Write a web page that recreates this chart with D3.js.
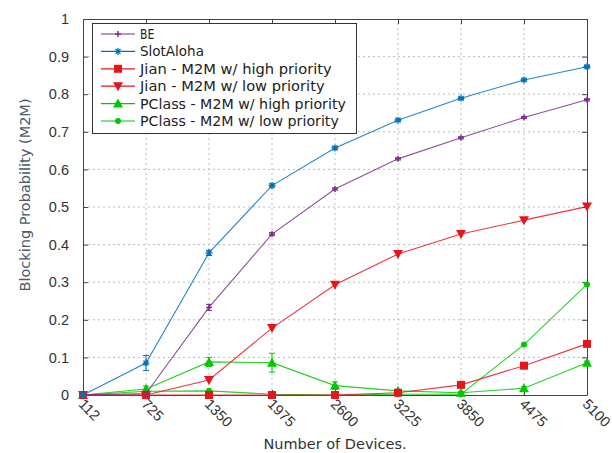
<!DOCTYPE html>
<html>
<head>
<meta charset="utf-8">
<script src="https://d3js.org/d3.v7.min.js"></script>
<style>
body { margin: 0; background: #fff; }
text { font-family: "Liberation Sans", Arial, sans-serif; }
</style>
</head>
<body>
<svg id="chart" width="612" height="453"></svg>
<script>
const devices = ["112", "725", "1350", "1975", "2600", "3225", "3850", "4475", "5100"];
const yTicks = [0, 0.1, 0.2, 0.3, 0.4, 0.5, 0.6, 0.7, 0.8, 0.9, 1];

const seriesNames = ["BE", "SlotAloha", "Jian - M2M w/ high priority", "Jian - M2M w/ low priority",
                     "PClass - M2M w/ high priority", "PClass - M2M w/ low priority"];
const beVals = [0, 0.004, 0.233, 0.428, 0.548, 0.628, 0.684, 0.738, 0.785];
const slotVals = [0, 0.085, 0.378, 0.557, 0.657, 0.731, 0.789, 0.838, 0.873];
const jianHighVals = [0, 0, 0, 0, 0, 0.006, 0.027, 0.078, 0.136];
const jianLowVals = [0, 0, 0.04, 0.178, 0.293, 0.375, 0.428, 0.465, 0.501];
const pcHighVals = [0, 0.016, 0.088, 0.086, 0.025, 0.011, 0.006, 0.018, 0.086];
const pcLowVals = [0, 0.01, 0.011, 0.002, 0, 0.002, 0.002, 0.134, 0.294];
// half-width of error bars
const beErr = [0, 0, 0.008, 0.004, 0.003, 0.003, 0.003, 0.003, 0.003];
const slotErr = [0, 0.02, 0.007, 0.004, 0.003, 0.003, 0.003, 0.003, 0.003];
const pcHighErr = [0, 0.008, 0.012, 0.025, 0.01, 0.003, 0.003, 0.004, 0.004];
const noErr = [0, 0, 0, 0, 0, 0, 0, 0, 0];

const colors = ["#7e2f8e", "#0072bd", "#e8141c", "#e8141c", "#00c800", "#00c800"];
const markers = ["plus", "star", "square", "tridown", "triup", "dot"];
const allVals = [beVals, slotVals, jianHighVals, jianLowVals, pcHighVals, pcLowVals];
const allErr = [beErr, slotErr, noErr, noErr, pcHighErr, noErr];

const svg = d3.select("#chart");
const m = {l: 83, r: 25, t: 19, b: 58};
const W = 612, H = 453;

const x = d3.scalePoint().domain(devices).range([m.l, W - m.r]);
const y = d3.scaleLinear().domain([0, 1]).range([H - m.b, m.t]);

// grid
const grid = svg.append("g").attr("stroke", "#bbb").attr("stroke-dasharray", "2,3").attr("stroke-width", 1);
grid.selectAll(".gx").data(devices.slice(1, -1)).join("line")
  .attr("x1", d => x(d)).attr("x2", d => x(d)).attr("y1", y(0)).attr("y2", y(1));
grid.selectAll(".gy").data(yTicks.slice(1, -1)).join("line")
  .attr("x1", x(devices[0])).attr("x2", x(devices[8])).attr("y1", d => y(d)).attr("y2", d => y(d));

// axes
const xAx = svg.append("g").attr("transform", `translate(0,${y(0)})`)
  .call(d3.axisBottom(x).tickSizeInner(-5).tickSizeOuter(0).tickPadding(6));
xAx.selectAll("text").attr("transform", "rotate(45)").attr("text-anchor", "start")
  .attr("dy", "0.5em").attr("x", 3).attr("y", 4);
svg.append("g").attr("transform", `translate(0,${y(1)})`)
  .call(d3.axisTop(x).tickSizeInner(-5).tickSizeOuter(0).tickFormat(""));
const yAx = svg.append("g").attr("transform", `translate(${x(devices[0])},0)`)
  .call(d3.axisLeft(y).tickValues(yTicks).tickFormat(d3.format("")).tickSizeInner(-5).tickSizeOuter(0).tickPadding(14));
svg.append("g").attr("transform", `translate(${x(devices[8])},0)`)
  .call(d3.axisRight(y).tickValues(yTicks).tickFormat("").tickSizeInner(-5).tickSizeOuter(0));
svg.selectAll(".domain").attr("stroke", "#444");
svg.selectAll(".tick line").attr("stroke", "#444");
svg.selectAll(".tick text").attr("fill", "#333").style("font-size", "14.5px");

// axis titles
svg.append("text").attr("x", 335).attr("y", 449)
  .attr("text-anchor", "middle").attr("fill", "#333")
  .style("font-family", "'DejaVu Sans', sans-serif").style("font-size", "14.5px").text("Number of Devices.");
svg.append("text").attr("transform", `translate(30,195) rotate(-90)`)
  .attr("text-anchor", "middle").attr("fill", "#4a5a6a")
  .style("font-family", "'DejaVu Sans', sans-serif").style("font-size", "14.5px").text("Blocking Probability (M2M)");

function drawMarker(g, type, color, cx, cy) {
  if (type === "plus") {
    g.append("path").attr("d", `M${cx - 3},${cy}H${cx + 3}M${cx},${cy - 3}V${cy + 3}`).attr("stroke", color).attr("stroke-width", 1.5);
  } else if (type === "star") {
    g.append("path").attr("d", `M${cx - 3.5},${cy}H${cx + 3.5}M${cx},${cy - 3.5}V${cy + 3.5}M${cx - 2.5},${cy - 2.5}L${cx + 2.5},${cy + 2.5}M${cx - 2.5},${cy + 2.5}L${cx + 2.5},${cy - 2.5}`)
      .attr("stroke", color).attr("stroke-width", 1.3);
  } else if (type === "square") {
    g.append("rect").attr("x", cx - 4).attr("y", cy - 4).attr("width", 8).attr("height", 8).attr("fill", color);
  } else if (type === "tridown") {
    g.append("path").attr("d", `M${cx - 5},${cy - 4}L${cx + 5},${cy - 4}L${cx},${cy + 5}Z`).attr("fill", color);
  } else if (type === "triup") {
    g.append("path").attr("d", `M${cx - 5},${cy + 4}L${cx + 5},${cy + 4}L${cx},${cy - 5}Z`).attr("fill", color);
  } else {
    g.append("circle").attr("cx", cx).attr("cy", cy).attr("r", 3).attr("fill", color);
  }
}

const line = d3.line().x((d, i) => x(devices[i])).y(d => y(d));
const order = [5, 4, 3, 2, 0, 1];
order.forEach(s => {
  const g = svg.append("g");
  g.append("path").datum(allVals[s]).attr("d", line).attr("fill", "none")
    .attr("stroke", colors[s]).attr("stroke-width", 1.1).attr("opacity", 0.85);
  allVals[s].forEach((v, i) => {
    const e = allErr[s][i];
    const cx = x(devices[i]);
    if (e > 0) {
      g.append("path").attr("d", `M${cx},${y(v - e)}V${y(v + e)}M${cx - 3},${y(v - e)}H${cx + 3}M${cx - 3},${y(v + e)}H${cx + 3}`)
        .attr("stroke", colors[s]).attr("stroke-width", 1).attr("fill", "none");
    }
    drawMarker(g, markers[s], colors[s], cx, y(v));
  });
});

// legend
const lg = svg.append("g");
lg.append("rect").attr("x", 92.5).attr("y", 23.5).attr("width", 264).attr("height", 110)
  .attr("fill", "#fff").attr("stroke", "#333").attr("stroke-width", 1);
seriesNames.forEach((name, i) => {
  const ly = 34 + i * 17.4;
  lg.append("line").attr("x1", 101).attr("x2", 135).attr("y1", ly).attr("y2", ly)
    .attr("stroke", colors[i]).attr("stroke-width", 1.2);
  drawMarker(lg, markers[i], colors[i], 118, ly);
  lg.append("text").attr("x", 140).attr("y", ly + 5).attr("fill", "#222")
    .style("font-family", "'DejaVu Sans', sans-serif").style("font-size", "13.5px")
    .attr("textLength", (name.length * 7.1).toFixed(1)).attr("lengthAdjust", "spacingAndGlyphs")
    .text(name);
});
</script>
</body>
</html>
